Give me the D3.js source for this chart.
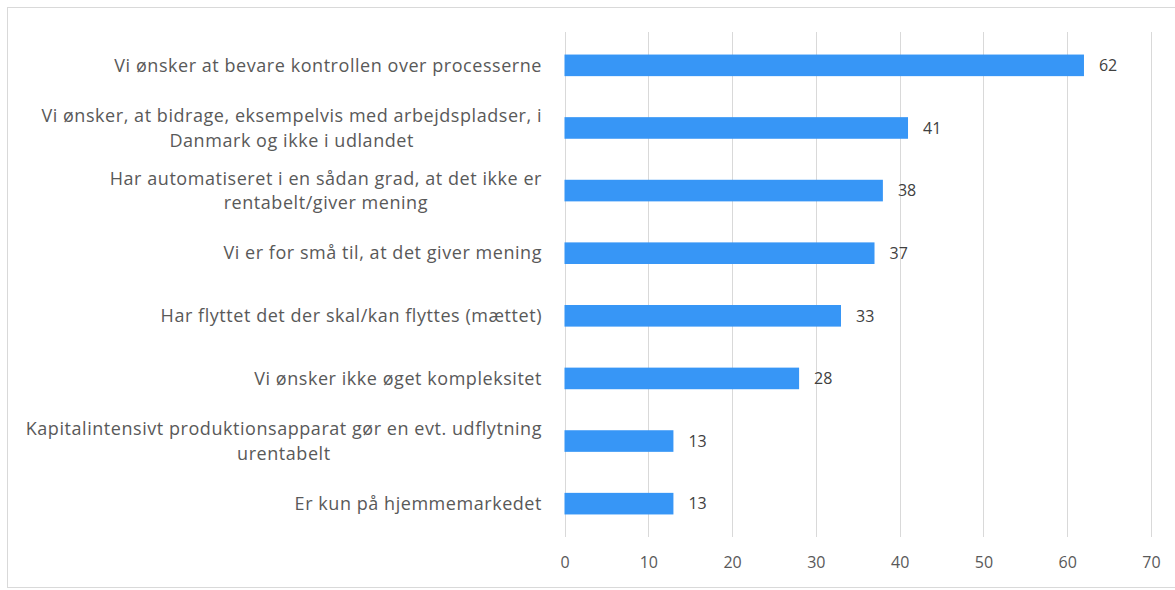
<!DOCTYPE html>
<html>
<head>
<meta charset="utf-8">
<script src="https://cdn.jsdelivr.net/npm/d3@7"></script>
<style>
  html, body { margin: 0; padding: 0; background: #fff; }
  svg { display: block; }
  text { font-family: "Open Sans", "Noto Sans", sans-serif; }
</style>
</head>
<body>
<svg id="chart" width="1175" height="590"></svg>
<script>
const categories = [
  ["Vi ønsker at bevare kontrollen over processerne"],
  ["Vi ønsker, at bidrage, eksempelvis med arbejdspladser, i", "Danmark og ikke i udlandet"],
  ["Har automatiseret i en sådan grad, at det ikke er", "rentabelt/giver mening"],
  ["Vi er for små til, at det giver mening"],
  ["Har flyttet det der skal/kan flyttes (mættet)"],
  ["Vi ønsker ikke øget kompleksitet"],
  ["Kapitalintensivt produktionsapparat gør en evt. udflytning", "urentabelt"],
  ["Er kun på hjemmemarkedet"]
];
const values = [62, 41, 38, 37, 33, 28, 13, 13];
const xTicks = [0, 10, 20, 30, 40, 50, 60, 70];

const svg = d3.select("#chart");
const W = 1175, H = 590;

// frame
svg.append("rect").attr("x", 7.5).attr("y", 7.5).attr("width", W).attr("height", 580)
  .attr("fill", "#fff").attr("stroke", "#d9d9d9").attr("stroke-width", 1);

const x = d3.scaleLinear().domain([0, 70]).range([564.5, 1151]);
const idx = d3.range(categories.length);
const y = d3.scaleBand().domain(idx).range([32, 537]).paddingInner(0.655).paddingOuter(0.36);

// gridlines
svg.append("g").selectAll("line").data(xTicks).join("line")
  .attr("x1", d => Math.round(x(d)) + 0.5).attr("x2", d => Math.round(x(d)) + 0.5)
  .attr("y1", 32).attr("y2", 537)
  .attr("stroke", "#d9d9d9").attr("stroke-width", 1);

// axis labels
const axis = d3.axisBottom(x).tickValues(xTicks).tickSize(0).tickPadding(0);
const ag = svg.append("g").attr("transform", "translate(0,557)").call(axis);
ag.select(".domain").remove();
ag.selectAll("text").attr("font-size", 16).attr("fill", "#595959")
  .attr("font-family", "'Open Sans', sans-serif");

// bars
svg.append("g").selectAll("rect").data(idx).join("rect")
  .attr("x", x(0)).attr("y", i => y(i))
  .attr("width", i => x(values[i]) - x(0)).attr("height", y.bandwidth())
  .attr("fill", "#3796f6");

// value labels
svg.append("g").selectAll("text").data(idx).join("text")
  .attr("x", i => x(values[i]) + 15).attr("y", i => y(i) + y.bandwidth() / 2)
  .attr("dy", "0.36em").attr("font-size", 16).attr("fill", "#404040")
  .text(i => values[i]);

// category labels
const right = 542;
const lh = 24.5;
const fs = 18;
const ls = 0.55;
const lg = svg.append("g");
idx.forEach(i => {
  const lines = categories[i];
  const cy = y(i) + y.bandwidth() / 2;
  const n = lines.length;
  const t0 = lg.append("text").attr("font-size", fs).attr("letter-spacing", ls).attr("fill", "#595959")
    .attr("text-anchor", "end").attr("x", right)
    .attr("y", cy - (n - 1) * lh / 2).attr("dy", "0.35em").text(lines[0]);
  if (n > 1) {
    const w = t0.node().getComputedTextLength();
    const cx = right - w / 2;
    for (let k = 1; k < n; k++) {
      lg.append("text").attr("font-size", fs).attr("letter-spacing", ls).attr("fill", "#595959")
        .attr("text-anchor", "middle").attr("x", cx)
        .attr("y", cy - (n - 1) * lh / 2 + k * lh).attr("dy", "0.35em").text(lines[k]);
    }
  }
});
</script>
</body>
</html>
